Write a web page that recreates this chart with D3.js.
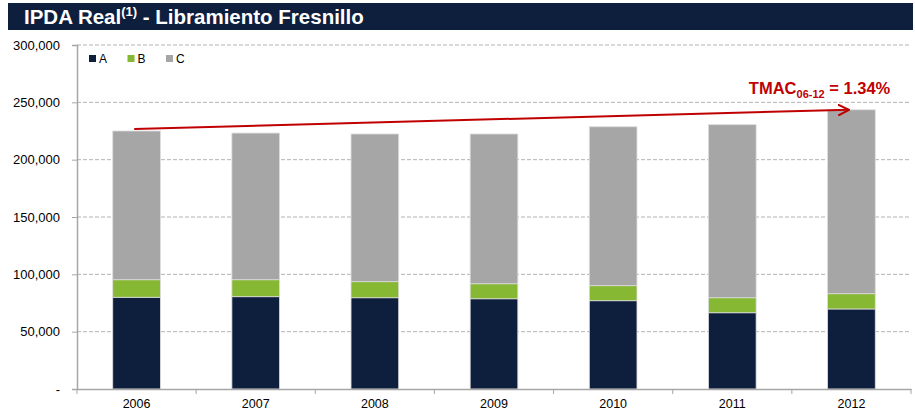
<!DOCTYPE html>
<html>
<head>
<meta charset="utf-8">
<script src="https://cdn.jsdelivr.net/npm/d3@7"></script>
<style>
  body { margin: 0; background: #fff; }
  text { font-family: Arial, "Liberation Sans", sans-serif; }
</style>
</head>
<body>
<script>
// data
var years = ["2006", "2007", "2008", "2009", "2010", "2011", "2012"];
var seriesA = [80000, 80500, 79600, 78700, 77000, 66500, 69800];
var seriesB = [15300, 14800, 14000, 13100, 13100, 13100, 13300];
var seriesC = [129700, 127900, 128800, 130600, 138600, 150900, 160400];
var seriesNames = ["A", "B", "C"];
var yTicks = [0, 50000, 100000, 150000, 200000, 250000, 300000];
var cagrLabel = "= 1.34%";

var colors = {A: "#0e1f3d", B: "#86b833", C: "#a6a6a6"};
var width = 915, height = 415;
var margin = {top: 45, right: 4, bottom: 26, left: 77};

var svg = d3.select("body").append("svg")
    .attr("width", width)
    .attr("height", height);

// title bar
svg.append("rect")
    .attr("x", 8).attr("y", 3)
    .attr("width", 905).attr("height", 27)
    .attr("fill", "#0e1f3d");

var title = svg.append("text")
    .attr("x", 24).attr("y", 24)
    .attr("fill", "#fff")
    .attr("font-size", "20.5px")
    .attr("font-weight", "bold");
title.append("tspan").text("IPDA Real");
title.append("tspan").attr("font-size", "13px").attr("dy", -8).text("(1)");
title.append("tspan").attr("dy", 8).text(" - Libramiento Fresnillo");

var x = d3.scaleBand()
    .domain(years)
    .range([margin.left, width - margin.right])
    .paddingInner(0.6)
    .paddingOuter(0.3);

var y = d3.scaleLinear()
    .domain([0, 300000])
    .range([height - margin.bottom, margin.top]);

// gridlines
svg.append("g")
    .selectAll("line")
    .data(yTicks.filter(d => d > 0))
    .enter().append("line")
        .attr("x1", margin.left)
        .attr("x2", width - margin.right)
        .attr("y1", d => y(d))
        .attr("y2", d => y(d))
        .attr("stroke", "#b3b3b3")
        .attr("stroke-dasharray", "4,2");

// stacked bars
var table = years.map((yr, i) => ({year: yr, A: seriesA[i], B: seriesB[i], C: seriesC[i]}));
var stack = d3.stack().keys(seriesNames)(table);

svg.append("g")
    .selectAll("g")
    .data(stack)
    .enter().append("g")
        .attr("fill", d => colors[d.key])
    .selectAll("rect")
    .data(d => d)
    .enter().append("rect")
        .attr("x", d => x(d.data.year))
        .attr("width", x.bandwidth())
        .attr("y", d => y(d[1]))
        .attr("height", d => y(d[0]) - y(d[1]))
        .attr("stroke", "#dcdcdc")
        .attr("stroke-width", 0.8);

// y axis
var leftAxis = d3.axisLeft(y)
    .tickValues(yTicks)
    .tickSize(5)
    .tickFormat(d => d === 0 ? "-" : d3.format(",")(d));

var gy = svg.append("g")
    .attr("class", "left axis")
    .attr("transform", "translate(" + margin.left + ",0)")
    .call(leftAxis);
gy.select(".domain").attr("stroke", "#a6a6a6").attr("stroke-width", 1.5);
gy.selectAll(".tick line").attr("stroke", "#a6a6a6");
gy.selectAll("text")
    .attr("x", -17)
    .attr("font-size", "13px")
    .attr("fill", "#000")
    .style("font-family", "Arial, 'Liberation Sans', sans-serif");

// x axis
var bottomAxis = d3.axisBottom(x).tickSize(0).tickPadding(10);
var gx = svg.append("g")
    .attr("class", "bottom axis")
    .attr("transform", "translate(0," + y(0) + ")")
    .call(bottomAxis);
gx.select(".domain").attr("stroke", "#a6a6a6").attr("stroke-width", 1.5);
gx.selectAll("text")
    .attr("font-size", "12.5px")
    .attr("fill", "#000")
    .style("font-family", "Arial, 'Liberation Sans', sans-serif");

var half = x.step() * x.paddingInner() / 2;
var bounds = years.map(d => x(d) - half).concat([x(years[years.length - 1]) + x.bandwidth() + half]);
gx.selectAll(".sep")
    .data(bounds)
    .enter().append("line")
        .attr("class", "sep")
        .attr("x1", d => d).attr("x2", d => d)
        .attr("y1", 0).attr("y2", 5)
        .attr("stroke", "#a6a6a6");

// legend
var legend = svg.append("g")
    .selectAll("g")
    .data(seriesNames)
    .enter().append("g")
        .attr("transform", (d, i) => "translate(" + (89 + i * 38.5) + ",55)");
legend.append("rect")
    .attr("width", 7).attr("height", 7)
    .attr("fill", d => colors[d]);
legend.append("text")
    .attr("x", 10).attr("y", 8)
    .attr("font-size", "12px")
    .text(d => d);

// growth arrow
svg.append("defs").append("marker")
    .attr("id", "arrow")
    .attr("markerUnits", "userSpaceOnUse")
    .attr("viewBox", "0 0 12 12")
    .attr("refX", 11).attr("refY", 6)
    .attr("markerWidth", 12).attr("markerHeight", 12)
    .attr("orient", "auto")
  .append("path")
    .attr("d", "M0,0.5 L11,6 L0,11.5")
    .attr("fill", "none")
    .attr("stroke", "#c00000")
    .attr("stroke-width", 2);

var first = years[0], last = years[years.length - 1];
svg.append("line")
    .attr("x1", x(first) + x.bandwidth() * 0.45)
    .attr("y1", y(d3.sum([seriesA[0], seriesB[0], seriesC[0]]) + 1800))
    .attr("x2", x(last) + x.bandwidth() * 0.45)
    .attr("y2", y(d3.sum([seriesA[6], seriesB[6], seriesC[6]])))
    .attr("stroke", "#c00000")
    .attr("stroke-width", 2)
    .attr("marker-end", "url(#arrow)");

var tmac = svg.append("text")
    .attr("x", x(last) + x.bandwidth() + 15)
    .attr("y", y(257000))
    .attr("text-anchor", "end")
    .attr("fill", "#c00000")
    .attr("font-size", "16.5px")
    .attr("font-weight", "bold");
tmac.append("tspan").text("TMAC");
tmac.append("tspan").attr("font-size", "11px").attr("dy", 4).text("06-12");
tmac.append("tspan").attr("dy", -4).text(" " + cagrLabel);
</script>
</body>
</html>
